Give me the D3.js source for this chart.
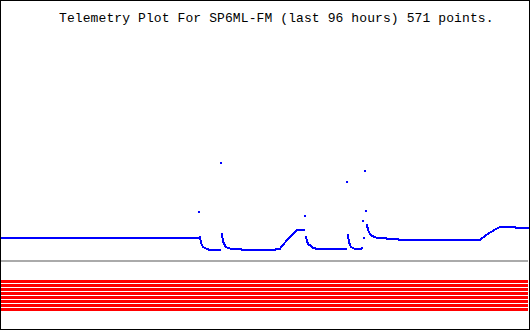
<!DOCTYPE html>
<html>
<head>
<meta charset="utf-8">
<script src="https://cdn.jsdelivr.net/npm/d3@7"></script>
<style>
  body { margin: 0; background: #fff; }
  svg { display: block; }
</style>
</head>
<body>
<div id="chart"></div>
<script>
// title of the plot
const title = "Telemetry Plot For SP6ML-FM (last 96 hours) 571 points.";

// hours since start of the 96 hour window
const hours = [0, 35.77, 35.95, 36.14, 36.32, 36.5, 36.69, 37.05, 37.41, 37.96, 39.79,
    39.97, 40.15, 40.33, 40.52, 40.88, 41.25, 41.98, 43.62, 43.8, 49.83, 50.01, 50.74,
    50.92, 52.38, 53.84, 55.12, 55.3, 55.48, 55.67, 55.85, 56.39, 56.76, 57.67, 62.78,
    62.97, 63.15, 63.33, 63.51, 63.7, 64.06, 64.43, 65.52, 65.7, 65.89, 66.07, 66.25,
    66.43, 66.62, 66.8, 66.98, 67.16, 67.53, 68.07, 68.44, 70.08, 70.27, 72.28, 72.46,
    87.24, 88.33, 89.25, 90.16, 90.89, 93.63, 93.81, 96];

// telemetry value (arbitrary units, gray line = 0)
const values = [23, 23, 49, 24, 18, 16, 14, 13, 12, 11, 11,
    98, 27, 20, 17, 14, 13, 12, 12, 11, 11, 12, 12,
    14, 23, 31, 31, 45, 24, 20, 17, 15, 13, 12, 12,
    79, 26, 19, 16, 14, 13, 12, 12, 13, 40, 23, 90,
    50, 36, 31, 29, 27, 25, 24, 23, 23, 22, 22, 21,
    21, 26, 29, 32, 34, 34, 33, 33];

// state of the 8 digital bits (all on for the whole window)
const bits = [1, 1, 1, 1, 1, 1, 1, 1];

const W = 530, H = 330;

const svg = d3.select("#chart").append("svg")
    .attr("width", W)
    .attr("height", H);

const x = d3.scaleLinear().domain([0, 96]).range([1, 527]);
const y = d3.scaleLinear().domain([0, 230]).range([260, 30]);

const points = hours.map((h, i) => ({h: h, v: values[i]}));

// zero / reference line
svg.append("rect")
    .attr("x", x(0))
    .attr("y", y(0))
    .attr("width", x(96) - x(0) + 1)
    .attr("height", 2)
    .attr("fill", "#aaaaaa");

// bit lines
const band = d3.scaleBand()
    .domain(d3.range(bits.length))
    .range([280, 280 + 4 * bits.length]);

svg.selectAll(".bit")
    .data(bits.map((b, i) => ({b: b, i: i})).filter(d => d.b === 1))
    .enter()
    .append("rect")
    .attr("class", "bit")
    .attr("x", x(0))
    .attr("y", d => band(d.i))
    .attr("width", x(96) - x(0) + 1)
    .attr("height", 3)
    .attr("fill", "#ff0000");

// split series where the value jumps (the original plots dots, not a line)
let segments = [[points[0]]];
for (let i = 1; i < points.length; i++) {
    if (Math.abs(points[i].v - points[i - 1].v) > 12) {
        segments.push([]);
    }
    segments[segments.length - 1].push(points[i]);
}

const line = d3.line()
    .x(d => x(d.h) + 1)
    .y(d => y(d.v) + 1);

svg.selectAll(".seg")
    .data(segments.filter(s => s.length > 1))
    .enter()
    .append("path")
    .attr("class", "seg")
    .attr("d", line)
    .attr("fill", "none")
    .attr("stroke", "#0000ff")
    .attr("stroke-width", 2)
    .attr("stroke-linecap", "square")
    .attr("shape-rendering", "crispEdges");

svg.selectAll(".dot")
    .data(points)
    .enter()
    .append("rect")
    .attr("class", "dot")
    .attr("x", d => x(d.h))
    .attr("y", d => y(d.v))
    .attr("width", 2)
    .attr("height", 2)
    .attr("fill", "#0000ff");

// title
svg.append("text")
    .attr("x", 59)
    .attr("y", 22)
    .attr("font-family", "'Liberation Mono', monospace")
    .attr("font-size", "13px")
    .attr("textLength", title.length * 7.9)
    .attr("lengthAdjust", "spacing")
    .attr("fill", "#000")
    .text(title);

// frame
svg.append("rect")
    .attr("x", 0.5)
    .attr("y", 0.5)
    .attr("width", W - 1)
    .attr("height", H - 1)
    .attr("fill", "none")
    .attr("stroke", "#000");
</script>
</body>
</html>
